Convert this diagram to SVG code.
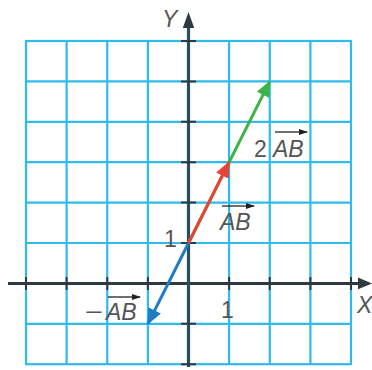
<svg xmlns="http://www.w3.org/2000/svg" width="372" height="370" viewBox="0 0 372 370">
<style>
.grid{stroke:#30baee;stroke-width:2.2;fill:none}
.axis{stroke:#2f3a40;stroke-width:3;fill:none}
.yaxis{stroke:#27505e;stroke-width:3.2;fill:none}
.tick{stroke:#2f3a40;stroke-width:2}
.lbl{font-family:"Liberation Sans",Arial,sans-serif;font-size:23px;fill:#555}
.it{font-style:italic}
.ov{stroke:#222;stroke-width:1.3}
</style>
<defs>
<marker id="hg" viewBox="0 0 16 14" markerWidth="16" markerHeight="14" refX="15" refY="7" orient="auto" markerUnits="userSpaceOnUse"><path d="M0,0 L16,7 L0,14 z" fill="#3cb44a"/></marker>
<marker id="hr" viewBox="0 0 16 14" markerWidth="16" markerHeight="14" refX="15" refY="7" orient="auto" markerUnits="userSpaceOnUse"><path d="M0,0 L16,7 L0,14 z" fill="#ea4335"/></marker>
<marker id="hb" viewBox="0 0 16 14" markerWidth="16" markerHeight="14" refX="15" refY="7" orient="auto" markerUnits="userSpaceOnUse"><path d="M0,0 L16,7 L0,14 z" fill="#1f7cc6"/></marker>
<marker id="ho" viewBox="0 0 9 6" markerWidth="9" markerHeight="6" refX="8" refY="3" orient="auto" markerUnits="userSpaceOnUse"><path d="M0,0 L9,3 L0,6 z" fill="#222"/></marker>
</defs>
<g id="grid" class="grid">
<rect x="26" y="41" width="325" height="323.2"/>
<path d="M66.6,41V364.2M107.25,41V364.2M147.9,41V364.2M229.1,41V364.2M269.75,41V364.2M310.4,41V364.2M26,81.4H351M26,121.8H351M26,162.2H351M26,202.6H351M26,243H351M26,323.8H351"/>
</g>
<g id="axes">
<line class="axis" x1="8" y1="283.4" x2="360" y2="283.4"/>
<polygon points="372,283.4 358,277.5 358,289.3" fill="#2f3a40"/>
<line class="yaxis" x1="188.5" y1="367" x2="188.5" y2="26"/>
<polygon points="188.5,12 182.8,28 194.2,28" fill="#2f3a40"/>
<path class="tick" d="M26,277V290M66.6,277V290M107.25,277V290M147.9,277V290M229.1,277V290M269.75,277V290M310.4,277V290M351,277V290"/>
<path class="tick" d="M181,41H196M181,81.4H196M181,121.8H196M181,162.2H196M181,202.6H196M181,243H196M181,323.8H196M181,364.2H196"/>
<text class="lbl it" x="162" y="27">Y</text>
<text class="lbl it" x="357" y="313">X</text>
<text class="lbl" x="164" y="247">1</text>
<text class="lbl" x="221" y="318">1</text>
</g>
<g id="vectors">
<line x1="188.5" y1="243" x2="269.75" y2="81.4" stroke="#3cb44a" stroke-width="3" marker-end="url(#hg)"/>
<line x1="188.5" y1="243" x2="229.1" y2="162.2" stroke="#ea4335" stroke-width="3" marker-end="url(#hr)"/>
<line x1="188.5" y1="243" x2="147.9" y2="323.8" stroke="#1f7cc6" stroke-width="3" marker-end="url(#hb)"/>
</g>
<g id="label-2AB">
<text class="lbl" x="254" y="157">2</text>
<text class="lbl it" x="273" y="157">AB</text>
<line class="ov" x1="275" y1="132" x2="307" y2="132" marker-end="url(#ho)"/>
</g>
<g id="label-AB">
<text class="lbl it" x="220" y="230">AB</text>
<line class="ov" x1="222" y1="206" x2="254" y2="206" marker-end="url(#ho)"/>
</g>
<g id="label-negAB">
<text class="lbl" x="85" y="320" textLength="18" lengthAdjust="spacingAndGlyphs">−</text>
<text class="lbl it" x="106" y="320">AB</text>
<line class="ov" x1="108" y1="297" x2="140" y2="297" marker-end="url(#ho)"/>
</g>
</svg>
